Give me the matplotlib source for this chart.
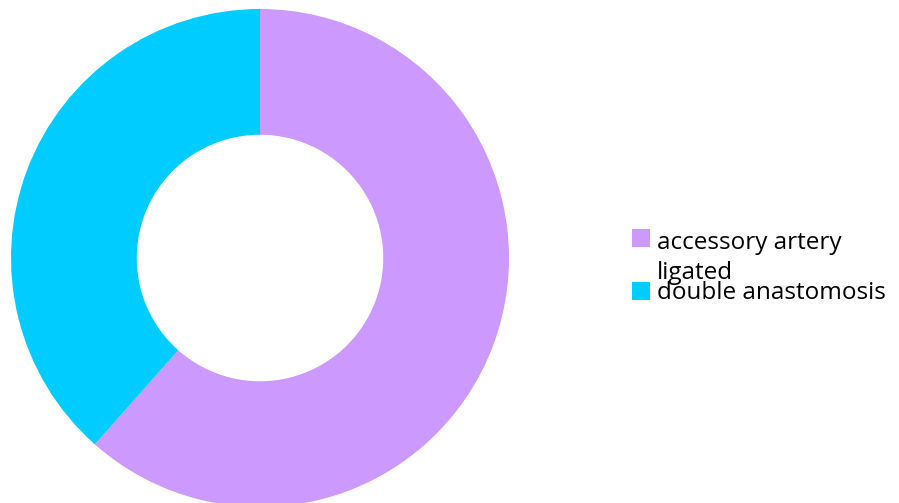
import matplotlib
matplotlib.use("Agg")
import matplotlib.pyplot as plt
from matplotlib.patches import Rectangle

# share of cases per technique
labels = ["accessory artery\nligated", "double anastomosis"]
counts = [8, 5]
colors = ["#CC99FF", "#00CCFF"]

W, H = 899, 503
fig = plt.figure(figsize=(W / 100, H / 100), dpi=100)

# donut: centre (260, 258) px, outer radius 249 px
cx, cy, r = 260, 258, 249
ax = fig.add_axes([(cx - r) / W, (H - cy - r) / H, 2 * r / W, 2 * r / H])
ax.pie(counts, colors=colors, startangle=90, counterclock=False, radius=1,
       wedgeprops=dict(width=0.505, linewidth=0))
ax.set_xlim(-1, 1)
ax.set_ylim(-1, 1)
ax.set_aspect("equal")
ax.axis("off")

# hand-placed legend (pixel positions from the top); swatch sits on the first line
swatch_tops = [229, 282]
first_baselines = [249, 299]
line_step = 30
for top, base, label, color in zip(swatch_tops, first_baselines, labels, colors):
    fig.patches.append(Rectangle((632 / W, (H - top - 18) / H), 18 / W, 18 / H,
                                 transform=fig.transFigure, facecolor=color,
                                 edgecolor="none"))
    for i, line in enumerate(label.split("\n")):
        fig.text(657 / W, (H - base - i * line_step) / H, line, fontsize=17.5,
                 family="Open Sans", va="baseline", ha="left", color="black")

fig.savefig("out.png", dpi=100)
